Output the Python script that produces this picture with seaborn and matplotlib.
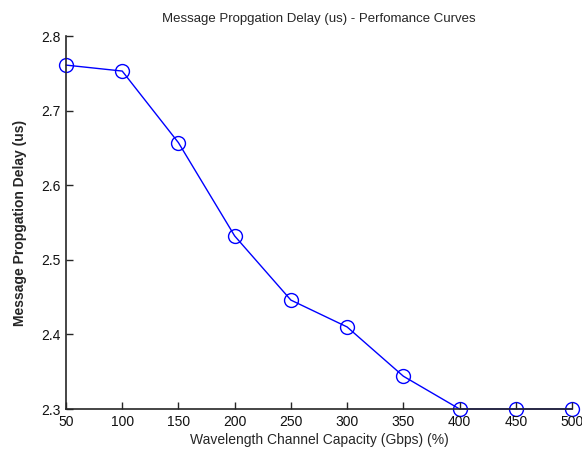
import matplotlib
matplotlib.use("Agg")
import matplotlib.pyplot as plt
import seaborn as sns
import pandas as pd

capacity = [50, 100, 150, 200, 250, 300, 350, 400, 450, 500]
delay = [2.761, 2.753, 2.657, 2.532, 2.446, 2.410, 2.344, 2.300, 2.300, 2.300]
xticks = [50, 100, 150, 200, 250, 300, 350, 400, 450, 500]
yticks = [2.3, 2.4, 2.5, 2.6, 2.7, 2.8]

sns.set_style("white", {"xtick.bottom": True, "ytick.left": True})
plt.rcParams["font.family"] = ["Liberation Sans", "DejaVu Sans"]

df = pd.DataFrame({"capacity": capacity, "delay": delay})

fig = plt.figure(figsize=(5.82, 4.54), dpi=100)
ax = fig.add_axes([0.1134, 0.0991, 0.8694, 0.8216])

sns.lineplot(data=df, x="capacity", y="delay", ax=ax, color="#0000ff",
             linewidth=1.0, marker="o", markersize=10,
             markerfacecolor="none", markeredgecolor="#0000ff",
             markeredgewidth=1.0, clip_on=False)

ax.set_xlim(50, 500)
ax.set_ylim(2.3, 2.8)
ax.set_xticks(xticks)
ax.set_xticklabels([str(v) for v in xticks])
ax.set_yticks(yticks)
ax.set_yticklabels([f"{v:.1f}" for v in yticks])
ax.set_axisbelow(False)

for side in ("top", "right"):
    ax.spines[side].set_visible(False)
for side in ("left", "bottom"):
    ax.spines[side].set_color("#262626")
    ax.spines[side].set_linewidth(1.2)

ax.tick_params(axis="both", direction="in", length=5, width=1,
               color="#262626", labelsize=10, labelcolor="#111111", pad=4)

ax.set_xlabel("Wavelength Channel Capacity (Gbps) (%)", fontsize=10, labelpad=3)
ax.set_ylabel("Message Propgation Delay (us)", fontsize=10, fontweight="bold",
              labelpad=10)
ax.set_title("Message Propgation Delay (us) - Perfomance Curves", fontsize=9.5, pad=10)

fig.savefig("out.png", dpi=100)
